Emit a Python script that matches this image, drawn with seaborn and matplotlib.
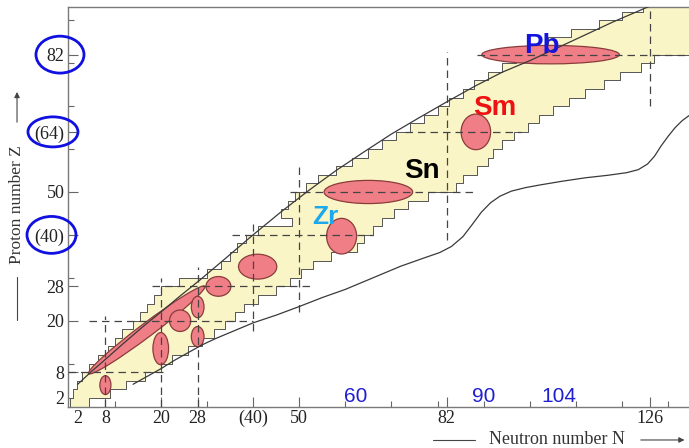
import matplotlib
matplotlib.use("Agg")
import matplotlib.pyplot as plt
import seaborn as sns
from matplotlib.patches import Ellipse
from matplotlib.lines import Line2D
from matplotlib.transforms import blended_transform_factory

# ---------------- data ----------------
# stepped band of known nuclei: rows of 2 proton numbers, N range per row
band_z = [0, 2, 4, 6, 8, 10, 12, 14, 16, 18, 20, 22, 24, 26, 28, 30, 32, 34, 36, 38,
          40, 42, 44, 46, 48, 50, 52, 54, 56, 58, 60, 62, 64, 66, 68, 70, 72, 74, 76,
          78, 80, 82, 84, 86, 88, 90, 92, 94]
band_n_left = [0.3, 1.0, 1.8, 3.0, 4.5, 6.5, 8.5, 10, 11.5, 14, 15.5, 17, 18.5, 20, 24,
               30, 33, 35, 36.5, 38.5, 41, 48.5, 46, 47.5, 49, 51.5, 54, 58, 61.5, 65,
               68, 71, 74, 77, 80, 82.5, 85.5, 88, 91, 94, 97, 100, 104, 109, 115, 120,
               124.5, 124.5]
band_n_right = [4.5, 9, 12.5, 16.5, 20, 22.5, 26, 29, 31.5, 34, 36, 38, 41, 45, 48, 50.5,
                53, 57, 62.5, 64, 66, 68, 70.5, 73.5, 78, 84, 85.5, 88.5, 91, 92, 94,
                96.5, 99.5, 102, 105, 108.5, 112, 116, 119.5, 124, 127, 136, 136, 136,
                136, 136, 136, 136]

# drip lines
proton_drip_n = [2, 5, 8, 12, 16, 20, 24, 28.5, 34, 40, 46, 52, 58, 64, 70, 76, 82, 88,
                 94, 100, 106, 112, 118, 126]
proton_drip_z = [5.2, 8.2, 11, 14.8, 18.5, 22, 25.6, 29.5, 34.5, 40, 45.3, 50.3, 55,
                 59.3, 63.5, 67.3, 71, 74.6, 77.9, 80.6, 83.6, 86.6, 89.6, 93.3]
neutron_drip_n = [14, 17, 20, 23, 26, 29, 32, 36, 40, 45, 50, 55, 60, 66, 72, 77, 80.5,
                  83, 85.5, 87.5, 89.5, 91.5, 93.5, 96, 99, 102, 107, 112, 117, 121,
                  123.5, 125.5, 127, 128.5, 130, 131.5, 133, 134.5]
neutron_drip_z = [5.2, 7, 8.8, 10.8, 12.6, 14.4, 15.9, 17.7, 19.5, 21.3, 23.3, 25.4,
                  27.3, 30, 32.7, 34.6, 35.9, 37.3, 39.6, 42.4, 45.3, 47.5, 49, 50.2,
                  51, 51.6, 52.5, 53.3, 53.9, 54.5, 55.2, 56.5, 58.3, 60.8, 63, 65,
                  66.6, 67.8]

# axis ticks
x_major_ticks = [2, 8, 20, 28, 40, 50, 82, 126]
x_major_labels = ["2", "8", "20", "28", "(40)", "50", "82", "126"]
x_minor_ticks = [10, 30, 60, 70, 80, 90, 100, 110, 120, 130]
y_major_ticks = [2, 8, 20, 28, 40, 50, 64, 82]
y_major_labels = ["2", "8", "20", "28", "(40)", "50", "(64)", "82"]
y_minor_ticks = [10, 30, 60, 70, 80, 90]
circled_y_ticks = [82, 64, 40]

# dashed magic-number lines
hline_z = [8, 20, 28, 40, 50, 64, 82]
hline_n_from = [0, 4.5, 18, 35.5, 48, 73, 88.5]
hline_n_to = [21, 40, 53, 66, 88, 98, 135]
vline_n = [8, 20, 28, 40, 50, 82, 126]
vline_z_from = [0, 0, 0, 17.5, 22, 38.8, 70]
vline_z_to = [21, 30, 32.5, 42.5, 56, 82.7, 94]

# deformation regions (ellipses)
ell_n = [16.95, 8, 20, 24.2, 28, 28, 32.5, 41, 59.2, 65, 88.3, 104.5]
ell_z = [17.85, 5, 13.5, 20, 23.2, 16.3, 28, 32.6, 39.7, 50, 64, 82]
ell_w = [32.4, 2.4, 3.4, 4.6, 2.75, 2.75, 5.4, 8.3, 6.5, 19.2, 6.4, 29.8]
ell_h = [3.1, 4.4, 7.5, 5.0, 5.0, 4.7, 4.6, 5.8, 8.3, 5.4, 8.3, 4.3]
ell_angle = [39, 0, 0, 0, 0, 0, 0, 0, 0, 0, 0, 0]

# element labels
element_names = ["Zr", "Sn", "Sm", "Pb"]
element_n = [55.6, 76.6, 92.4, 102.6]
element_z = [42.5, 53.2, 68.0, 82.3]
element_colors = ["#1CA8EC", "#000000", "#EE1111", "#1414E0"]

# extra neutron numbers marked in blue
extra_n_labels = ["60", "90", "104"]
extra_n_pos = [62.3, 89.9, 106.3]

# ---------------- figure ----------------
sns.set_theme(style="white")
plt.rcParams["font.family"] = ["Liberation Serif", "DejaVu Serif"]

fig = plt.figure(figsize=(6.89, 4.48), dpi=100)
ax = fig.add_axes([0.0994, 0.0915, 0.9006, 0.8929])
ax.set_xlim(0, 134.5)
ax.set_ylim(-0.1, 93.1)

ax.fill_betweenx(band_z, band_n_left, band_n_right, step="post",
                 facecolor="#FAF5C6", edgecolor="#555555", linewidth=0.7, zorder=1)

for n, z, w, h, a in zip(ell_n, ell_z, ell_w, ell_h, ell_angle):
    ax.add_patch(Ellipse((n, z), w, h, angle=a, facecolor="#F07E86",
                         edgecolor="#8a3c3c", linewidth=0.9, zorder=2))

ax.hlines(hline_z, hline_n_from, hline_n_to, colors="#444444",
          linestyles=(0, (6, 4)), linewidth=0.9, zorder=3)
ax.vlines(vline_n, vline_z_from, vline_z_to, colors="#444444",
          linestyles=(0, (6, 4)), linewidth=0.9, zorder=3)

sns.lineplot(x=proton_drip_n, y=proton_drip_z, sort=False, ax=ax,
             color="#3a3a3a", linewidth=0.9, zorder=4)
sns.lineplot(x=neutron_drip_n, y=neutron_drip_z, sort=False, ax=ax,
             color="#3a3a3a", linewidth=0.9, zorder=4)

for name, n, z, c in zip(element_names, element_n, element_z, element_colors):
    ax.text(n, z, name, color=c, fontsize=20 if name != "Zr" else 19,
            fontweight="bold", family=["Liberation Sans", "DejaVu Sans"],
            ha="center", va="baseline", zorder=6)

for lab, n in zip(extra_n_labels, extra_n_pos):
    ax.text(n, 1.1, lab, color="#2020D0", fontsize=15,
            family=["Liberation Sans", "DejaVu Sans"],
            ha="center", va="baseline", zorder=6)

# axes styling
for side in ["left", "bottom", "top"]:
    ax.spines[side].set_color("#7a7a7a")
    ax.spines[side].set_linewidth(1.0)
ax.spines["right"].set_visible(False)

ax.set_xticks(x_major_ticks, x_major_labels)
ax.set_xticks(x_minor_ticks, minor=True)
ax.set_yticks(y_major_ticks, y_major_labels)
ax.set_yticks(y_minor_ticks, minor=True)
ax.tick_params(which="major", direction="in", length=7, width=0.8, color="#666666",
               labelsize=13, labelcolor="#222222")
ax.tick_params(which="minor", direction="in", length=4.3, width=0.8, color="#666666")
ax.tick_params(axis="x", which="both", pad=2, bottom=True)
ax.tick_params(axis="y", which="both", pad=3, left=True)
ax.grid(False)

# circles around selected proton numbers
btrans = blended_transform_factory(ax.transAxes, ax.transData)
circle_x = {82: -0.0137, 64: -0.025, 40: -0.0274}
circle_w = {82: 0.0774, 64: 0.0806, 40: 0.079}
circle_h = {82: 8.6, 64: 7.0, 40: 8.6}
for z in circled_y_ticks:
    ax.add_patch(Ellipse((circle_x[z], z), circle_w[z], circle_h[z], transform=btrans,
                         fill=False, edgecolor="#1010E0", linewidth=2.0,
                         clip_on=False, zorder=7))

# axis titles with arrows
fig.text(0.8084, 0.0179, "Neutron number N", fontsize=13, color="#333333",
         ha="center", va="center")
fig.add_artist(Line2D([0.6284, 0.6894], [0.0179, 0.0179], transform=fig.transFigure,
                      color="#444444", linewidth=0.8))
ax.annotate("", xy=(0.9975, 0.0179), xytext=(0.926, 0.0179), xycoords="figure fraction",
            textcoords="figure fraction",
            arrowprops=dict(arrowstyle="-|>", color="#444444", lw=0.8, mutation_scale=8))

fig.text(0.0247, 0.5424, "Proton number Z", fontsize=12.5, color="#333333",
         ha="center", va="center", rotation=90)
fig.add_artist(Line2D([0.0247, 0.0247], [0.2857, 0.3817], transform=fig.transFigure,
                      color="#444444", linewidth=0.8))
ax.annotate("", xy=(0.0247, 0.801), xytext=(0.0247, 0.721), xycoords="figure fraction",
            textcoords="figure fraction",
            arrowprops=dict(arrowstyle="-|>", color="#444444", lw=0.8, mutation_scale=8))

fig.savefig("out.png", dpi=100)
